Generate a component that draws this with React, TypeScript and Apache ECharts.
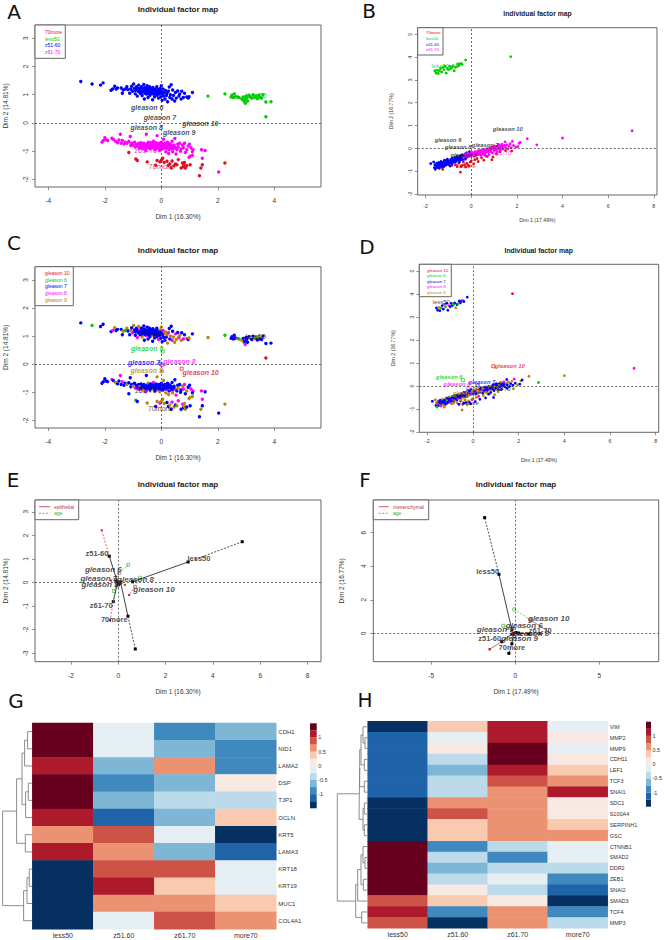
import React, { useEffect, useRef } from "react";
import * as echarts from "echarts";

// ---------- panel A / C individuals (Dim 1 16.30%, Dim 2 14.81%) ----------
const A_70more = [[-1.15,-1.05],[-.9,-1.28],[-.85,-1.33],[-.5,-1.38],[-.2,-1.5],[-.15,-1.33],[-.05,-1.38],[0,-1.32],[.05,-1.25],[.1,-1.4],[.2,-1.36],[.25,-1.5],[.3,-1.45],[.35,-1.6],[.38,-1.35],[.45,-1.52],[.5,-1.45],[.55,-1.48],[.6,-1.3],[.7,-1.6],[.75,-1.42],[.78,-1.55],[.8,-1.5],[.82,-1.4],[.85,-1.6],[.9,-1.52],[1.02,-1.48],[1.35,-1.87],[1.4,-1.6],[1.45,-1.48],[2.25,-1.42]];
const A_less50 = [[3.7,.22],[1.65,.95],[2.25,1.03],[2.47,.92],[2.5,.98],[2.55,.9],[2.58,1.03],[2.62,.93],[2.7,.92],[2.75,.9],[2.85,.85],[2.9,.92],[2.92,.78],[2.95,.82],[2.97,.7],[3,.95],[3.02,.88],[3.05,.78],[3.1,.98],[3.15,.92],[3.2,.88],[3.25,1],[3.3,.9],[3.35,.95],[3.4,.86],[3.45,.98],[3.5,.9],[3.55,.88],[3.6,1],[3.7,.74],[3.88,.75]];
const A_z5160 = [[-2.85,1.47],[-2.45,1.38],[-2.15,1.34],[-2.06,1.42],[-1.78,1.16],[-1.72,1.2],[-1.65,1.3],[-1.6,1.2],[-1.55,1.24],[-1.42,1.24],[-1.38,1.05],[-1.35,1.17],[-1.28,1.2],[-1.22,1.28],[-1.18,1.18],[-1.12,1.05],[-1.08,1.2],[-1.05,1.3],[-1.02,1.12],[-.98,1.38],[-.95,1.22],[-.92,1.03],[-.9,1.18],[-.88,1.28],[-.85,.95],[-.82,1.12],[-.8,1.34],[-.78,1.22],[-.75,1.05],[-.73,1.16],[-.7,1.28],[-.68,.97],[-.66,1.1],[-.64,1.2],[-.62,1.36],[-.6,.85],[-.58,1.05],[-.56,1.15],[-.55,1.25],[-.52,1.02],[-.5,1.32],[-.48,1.12],[-.47,.9],[-.45,1.2],[-.43,1.08],[-.42,1.28],[-.4,.98],[-.38,1.15],[-.36,1.22],[-.35,1.05],[-.33,1.12],[-.31,.82],[-.3,1.26],[-.28,1.02],[-.27,1.17],[-.25,1.1],[-.24,.93],[-.22,1.2],[-.2,1.05],[-.18,1.14],[-.16,1.28],[-.15,.98],[-.13,1.08],[-.1,.88],[-.08,1.18],[-.06,1.02],[-.04,1.22],[-.02,.92],[0,1.32],[.02,1.1],[.03,.8],[.05,1],[.06,1.2],[.08,.95],[.1,1.08],[.13,.85],[.15,1.15],[.18,.97],[.2,1.05],[.22,.75],[.25,1.12],[.28,1.27],[.3,.9],[.32,1],[.35,1.35],[.38,.85],[.4,1.17],[.43,.97],[.47,.78],[.5,1.08],[.53,.88],[.58,1.13],[.62,.95],[.65,1.02],[.7,.85],[.72,1.12],[.78,.9],[.82,1.05],[.9,.92],[.95,.88],[.98,.93],[1.1,1.08],[-.92,1.15],[-.86,1.2],[-.76,1.13],[-.72,1.08],[-.69,1.18],[-.63,1.12],[-.6,1.24],[-.57,1.18],[-.53,1.1],[-.49,1.2],[-.46,1.05],[-.44,1.15],[-.41,1.2],[-.39,1.07],[-.37,1.1],[-.34,1.18],[-.29,1.13],[-.26,1.05],[-.23,1.16],[-.19,1.1],[-.14,1.18],[-.11,1.12],[-.07,1.06],[-.03,1.14],[.04,1.05]];
const A_z6170 = [[-2.1,-.68],[-2.05,-.62],[-2,-.52],[-1.95,-.6],[-1.9,-.62],[-1.75,-.54],[-1.7,-.58],[-1.62,-.65],[-1.55,-.7],[-1.5,-.6],[-1.45,-.4],[-1.42,-.72],[-1.38,-.62],[-1.32,-.75],[-1.28,-.68],[-1.22,-.72],[-1.15,-.66],[-1.1,-.48],[-1.08,-.8],[-1.05,-.72],[-1,-.78],[-.95,-.68],[-.92,-.85],[-.88,-.75],[-.85,-.82],[-.8,-.72],[-.78,-.9],[-.75,-.8],[-.72,-.7],[-.7,-.85],[-.68,-.77],[-.65,-.92],[-.62,-.72],[-.6,-.82],[-.58,-.78],[-.55,-.98],[-.53,-.4],[-.52,-.88],[-.5,-.74],[-.48,-.8],[-.46,-.68],[-.44,-.85],[-.42,-.76],[-.4,-.92],[-.38,-.7],[-.36,-.82],[-.34,-.78],[-.32,-.88],[-.3,-.72],[-.28,-.65],[-.26,-.84],[-.24,-.76],[-.22,-.95],[-.2,-.8],[-.18,-.7],[-.16,-.86],[-.15,-.45],[-.14,-.76],[-.12,-.9],[-.1,-.82],[-.08,-.72],[-.06,-.98],[-.04,-.78],[-.02,-.88],[0,-.68],[.02,-.84],[.04,-.76],[.06,-.92],[.08,-.58],[.1,-.8],[.12,-.72],[.14,-.87],[.16,-1.02],[.18,-.77],[.2,-.9],[.22,-.68],[.24,-.84],[.26,-1.08],[.28,-.95],[.3,-.74],[.32,-.88],[.35,-.8],[.38,-.65],[.4,-1.02],[.42,-.92],[.45,-.78],[.48,-.55],[.5,-.88],[.52,-1.1],[.55,-.95],[.58,-.75],[.6,-.85],[.65,-.72],[.68,-1],[.7,-.92],[.75,-.78],[.78,-.88],[.82,-.72],[.85,-1.05],[.9,-.95],[.95,-.82],[.98,-1.22],[1,-.75],[1.02,-1.18],[1.05,-.88],[1.1,-1.15],[1.12,-.95],[1.1,-1.02],[1.42,-.95],[1.45,-1.25],[1.55,-.98],[2.03,-1.74],[-.74,-.86],[-.66,-.8],[-.61,-.76],[-.56,-.85],[-.51,-.8],[-.47,-.86],[-.43,-.8],[-.39,-.86],[-.35,-.75],[-.31,-.8],[-.27,-.74],[-.23,-.86],[-.19,-.78],[-.17,-.82],[-.13,-.8],[-.09,-.87],[-.05,-.82],[-.01,-.76],[.03,-.88],[.07,-.8],[.11,-.86],[.15,-.78],[.19,-.84],[.23,-.76],[.27,-.82],[.31,-.78],[.36,-.9],[.44,-.85]];
// gleason grade of each individual above, one digit per point (0 stands for gleason 10)
const C_70more = "7679798999779789798787999777979";
const C_less50 = "0967777786979787777977967977777";
const C_z5160 = "76777897777969779789777787987779787777687777977879777978777977788797977987979799877978799897899787979";
const C_z6170 = "77777879778787797777978777897779778877779777787978797977978779777877987799877977977987798779777988797979898788";

// ---------- panel B / D individuals (Dim 1 17.49%, Dim 2 16.77%) ----------
const B_70more = [[-1.25,-.92],[-.85,-.75],[-.7,-.72],[-.62,-.8],[-.55,-.65],[-.48,-1.05],[-.45,-.8],[-.4,-.75],[-.35,-.6],[-.3,-.72],[-.25,-.82],[-.2,-.65],[-.15,-.72],[-.1,-.78],[-.05,-.6],[0,-.55],[.1,-.68],[.15,-.5],[.25,-.45],[.3,-.58],[.45,-.42],[.55,-.52],[.6,-.3],[.7,-.35],[.9,-.5],[.95,-.38],[1.1,-.25],[1.25,-.15],[1.5,-.1],[1.77,-.12]];
const B_less50 = [[1.73,4.02],[-.25,3.87],[-1.6,3.4],[-1.55,3.3],[-1.5,3.42],[-1.45,3.28],[-1.4,3.4],[-1.35,3.5],[-1.3,3.35],[-1.25,3.55],[-1.2,3.45],[-1.15,3.6],[-1.1,3.3],[-1.05,3.5],[-1,3.45],[-.95,3.6],[-.9,3.5],[-.85,3.55],[-.8,3.62],[-.75,3.4],[-.7,3.55],[-.65,3.58],[-.6,3.7],[-.55,3.62],[-.5,3.7],[-.45,3.72],[-.4,3.68]];
const B_z5160 = [[-1.78,-.67],[-1.65,-.6],[-1.62,-.85],[-1.6,-.72],[-1.58,-.92],[-1.55,-.78],[-1.52,-.65],[-1.5,-.85],[-1.5,-.7],[-1.48,-.72],[-1.45,-.8],[-1.43,-.62],[-1.42,-.75],[-1.4,-.88],[-1.38,-.7],[-1.35,-.77],[-1.33,-.58],[-1.3,-.82],[-1.28,-.66],[-1.25,-.73],[-1.22,-.6],[-1.2,-.8],[-1.18,-.52],[-1.15,-.68],[-1.13,-.75],[-1.1,-.6],[-1.08,-.7],[-1.05,-.48],[-1.02,-.64],[-1,-.72],[-.98,-.55],[-.95,-.62],[-.93,-.78],[-.9,-.5],[-.88,-.58],[-.85,-.68],[-.83,-.44],[-.8,-.55],[-.78,-.62],[-.75,-.5],[-.72,-.4],[-.7,-.6],[-.68,-.48],[-.65,-.55],[-.62,-.36],[-.6,-.46],[-.58,-.52],[-.55,-.42],[-.52,-.6],[-.5,-.34],[-.48,-.44],[-.45,-.5],[-.43,-.38],[-.4,-.28],[-.38,-.42],[-.35,-.48],[-.32,-.32],[-.3,-.38],[-.27,-.25],[-.25,-.45],[-.22,-.33],[-.2,-.2],[-.18,-.3],[-.12,-.25],[-.08,-.15],[.02,-.27],[-1.34,-.68],[-1.24,-.62],[-1.16,-.74],[-1.06,-.58],[-.96,-.66],[-.86,-.52],[-.76,-.56],[-.66,-.46],[-.56,-.5],[-.46,-.4],[-1.46,-.68],[-1.12,-.54]];
const B_z6170 = [[7.05,.77],[4,.45],[2.87,.15],[2.45,.42],[-.35,-.42],[-.3,-.3],[-.28,-.36],[-.25,-.25],[-.2,-.32],[-.18,-.4],[-.15,-.22],[-.12,-.3],[-.1,-.36],[-.05,-.28],[-.02,-.22],[0,-.34],[.03,-.18],[.06,-.28],[.1,-.22],[.12,-.35],[.15,-.15],[.18,-.25],[.2,-.3],[.25,-.18],[.28,-.12],[.3,-.28],[.33,-.2],[.35,-.1],[.38,-.25],[.4,-.16],[.43,-.32],[.45,-.08],[.48,-.2],[.5,-.13],[.53,-.26],[.55,-.05],[.58,-.16],[.6,-.1],[.63,-.2],[.65,-.35],[.68,-.02],[.7,-.12],[.72,-.06],[.75,-.18],[.78,-.28],[.8,0],[.82,-.08],[.85,-.14],[.88,.04],[.9,-.04],[.92,-.2],[.95,.06],[.98,-.02],[1,-.1],[1.02,.1],[1.05,.02],[1.08,-.06],[1.1,.08],[1.12,-.16],[1.15,.04],[1.18,.12],[1.2,-.02],[1.22,.16],[1.25,.06],[1.28,-.08],[1.3,.1],[1.33,.02],[1.35,.18],[1.38,.08],[1.4,-.04],[1.45,.12],[1.48,.28],[1.5,.04],[1.55,.16],[1.6,-.02],[1.65,.1],[1.7,.2],[1.75,.03],[1.8,.3],[1.85,.12],[1.95,.05],[2.05,.08],[2.1,.22],[2.15,.26],[.22,-.22],[.42,-.12],[.62,-.14],[.84,-.04],[1.03,.04],[1.16,-.04],[1.26,.02],[.74,-.1],[.52,-.18],[.32,-.14]];
const D_70more = "999799879799778979879797799779";
const D_less50 = "077797677867787776797677787";
const D_z5160 = "797968879797786799779796897978779787979677989787977987797779777877";
const D_z6170 = "89697789797778979777897797979877789777797899798778779777977978979778779779779787979799";

// ---------- label tables (name, x, y) ----------
const gleasonNames = ["gleason 6", "gleason 7", "gleason 8", "gleason 9", "gleason 10"];
const ageNames = ["less50", "z51-60", "z61-70", "70more"];
const A_gleasonXY = [[-.5,.55],[-.05,.2],[-.52,-.145],[.63,-.35],[1.38,-.03]];
const A_ageXY = [[3.35,.98],[-.35,1.1],[-.55,-.97],[0,-1.55]];
const B_gleasonXY = [[-1.02,.35],[.61,.16],[-.58,.06],[-.33,-.29],[1.6,.85]];
const B_ageXY = [[-1.36,3.62],[-.6,-.45],[1.35,-.22],[-.26,-.78]];
const C_gleasonXY = [[-.5,.55],[-.61,.07],[.64,.11],[-.52,-.24],[1.39,-.28]];
const C_ageXY = [[3.34,.97],[-.35,1.1],[-.55,-.95],[-.05,-1.56]];
const C_means = [[.05,.45],[-.03,.02],[.02,-.03],[.02,-.25],[.72,-.16]];
const D_gleasonXY = [[-1.04,.38],[.39,.18],[-.7,.08],[-.3,-.3],[1.61,.86]];
const D_ageXY = [[-1.39,3.65],[-.6,-.45],[1.24,-.15],[-.19,-.75]];
const D_means = [[-.44,.25],[.2,.02],[-.2,-.1],[.1,-.12],[.89,.86]];
const E_gleasonXY = [[-.63,.57],[-.82,.18],[.73,.11],[-.77,-.1],[1.51,-.3]];
const E_ageXY = [[3.41,1.01],[-.9,1.25],[-.72,-.98],[-.17,-1.59]];
const F_gleasonXY = [[.54,.44],[-1.19,.24],[.93,-.02],[.26,-.32],[1.99,.87]];
const F_ageXY = [[-1.64,3.67],[-1.52,-.32],[1.49,.16],[-.2,-.83]];

// ---------- partial-axes segments, [x1,y1,x2,y2] ----------
const E_solidBlack = [[2.95,.87,.6,.03],[-.38,1.12,-.03,0],[-.21,-.81,-.03,0],[.41,-1.43,.1,0]];
const E_dashBlack = [[2.95,.87,5.24,1.73],[.41,-1.43,.72,-2.82]];
const E_red = [[-.38,1.12,-.7,2.22],[-.21,-.81,-.35,-1.6],[.71,-.18,.46,-.53],[.04,.4,-.31,.08],[.1,0,.28,-.1]];
const E_green = [[.04,.4,.42,.75],[.71,-.18,.92,.2],[-.05,-.17,-.18,-.36],[-.21,-.81,-.1,-.1]];
const E_black = [[2.95,.87],[5.24,1.73],[.6,.03],[-.38,1.12],[-.21,-.81],[.41,-1.43],[.72,-2.82],[-.05,.02],[.05,-.05],[.1,.02],[-.1,.05],[0,-.1]];
const E_redPts = [[-.7,2.22],[-.35,-1.6],[-.31,.08],[.28,-.1],[.46,-.53]];
const E_openPts = [[.04,.4],[-.1,.1],[.1,0],[-.05,-.17],[.71,-.18]];
const E_greenPts = [[.42,.75],[.92,.2],[-.18,-.36]];
const F_solidBlack = [[-.97,3.52,-.2,.2],[-.81,-.5,-.14,0],[-.2,-.62,-.1,0],[.82,-.04,.2,0]];
const F_dashBlack = [[-.97,3.52,-1.82,6.9],[-.2,-.62,-.38,-1.19]];
const F_red = [[-.81,-.5,-1.52,-.95],[.93,.79,1.9,.15],[.82,-.04,1.49,-.04]];
const F_green = [[.93,.79,-.06,1.43],[-.2,.2,-.71,.45]];
const F_black = [[-.97,3.52],[-1.82,6.9],[-.2,.2],[-.81,-.5],[-.2,-.62],[-.38,-1.19],[.82,-.04],[-.1,0],[.05,.05],[-.2,-.05],[.2,0]];
const F_redPts = [[-1.52,-.95],[1.49,-.04],[-.14,-.02],[.3,-.06]];
const F_openPts = [[.93,.79],[-.15,.3]];
const F_greenPts = [[-.06,1.43],[-.71,.45]];

// ---------- heatmaps ----------
const sampleGroups = ["less50", "z51.60", "z61.70", "more70"];
const G_genes = ["CDH1","NID1","LAMA2","DSP","TJP1","OCLN","KRT5","LAMA3","KRT18","KRT19","MUC1","COL4A1"];
const G_values = [
  [1.375,-.125,-.875,-.625],[1.375,-.125,-.625,-.875],[1.125,-.625,.625,-.875],[1.375,-.875,-.625,.125],
  [1.375,-.625,-.375,-.375],[1.125,-1.125,-.625,.375],[.625,.875,-.125,-1.375],[1.125,.625,-.625,-1.125],
  [-1.375,.875,.875,-.125],[-1.375,1.125,.375,-.125],[-1.375,.625,.625,.375],[-1.375,-.125,.875,.625],
];
const H_genes = ["VIM","MMP2","MMP9","CDH11","LEF1","TCF3","SNAI1","SDC1","S100A4","SERPINH1","GSC","CTNNB1","SMAD2","DDR2","ZEB1","SNAI2","SMAD3","TCF4","MMP3"];
const H_values = [
  [-1.375,.375,1.125,-.125],[-1.125,-.125,1.125,.125],[-1.125,.125,1.375,-.125],[-1.125,-.375,1.375,.125],
  [-1.125,-.625,1.125,.375],[-1.125,-.375,.875,.625],[-1.125,-.375,.625,1.125],[-1.375,.625,.625,.125],
  [-1.375,.875,.625,.125],[-1.375,.375,.625,.375],[-1.375,.375,.625,.625],[1.375,-.875,-.375,-.125],
  [1.375,-.375,-.875,-.125],[1.375,-.625,-.375,-.375],[1.375,-.375,-.125,-.875],[1.375,.125,-.375,-1.125],
  [.875,.375,.125,-1.375],[1.125,-.875,.625,-.875],[.875,-1.375,.625,-.375],
];
const bandColors = ["#053061","#1F63A8","#3F89BE","#7EB6D6","#BCDAEA","#E5EEF3","#F8EAE3","#F9C9B0","#EB9273","#CE5347","#AC1A2B","#67001F"];
const bandEdges = [-1.5,-1.25,-1,-.75,-.5,-.25,0,.25,.5,.75,1,1.25,1.5];
const colorbarTicks = [-1,-.5,0,.5,1];
// dendrogram brackets: [top child height, top row, merge height, bottom row, bottom child height]
const G_dendro = [[32,0,27.3,1,32],[27.3,.5,24.3,2,32],[32,3,28,4,32],[28,3.5,25.3,5,32],[24.3,1.25,21.7,4.25,25.3],[32,6,25,7,32],[21.7,2.75,16.3,6.5,25],[32,8,29,9,32],[29,8.5,26.7,10,32],[26.7,9.25,23.3,11,32],[16.3,4.625,2.3,10.125,23.3]];
const H_dendro = [[32.7,1,30,2,32.7],[32.7,0,28,1.5,30],[32.7,3,29.3,4,32.7],[28,.75,26,3.5,29.3],[32.7,5,29.3,6,32.7],[26,2.1,24.7,5.5,29.3],[32.7,7,29.3,8,32.7],[32.7,9,29.3,10,32.7],[29.3,7.5,28,9.5,29.3],[24.7,3.8,24,8.5,28],[32.7,12,30,13,32.7],[32.7,11,28,12.5,30],[32.7,14,28.3,15,32.7],[28,11.75,26,14.5,28.3],[26,13.1,22.7,16,32.7],[32.7,17,26.7,18,32.7],[22.7,14.5,20.7,17.5,26.7],[24,6.15,2.3,16,20.7]];

// ---------- colours and fonts ----------
const FONT = "Liberation Sans";
const RED = "#E01020", GREEN = "#00CD00", BLUE = "#0000FF", MAGENTA = "#FF00FF", GOLD = "#B8860B";
const gleasonColor: Record<string, string> = { "0": RED, "6": GREEN, "7": BLUE, "8": MAGENTA, "9": GOLD };
const gleasonColors = [GREEN, BLUE, MAGENTA, GOLD, RED];
const AXIS = "#666";
const TICKTEXT = "#333";

const grids: any[] = [], xAxes: any[] = [], yAxes: any[] = [], series: any[] = [], titles: any[] = [], graphics: any[] = [];

function addAxes(p: any) {
  const i = grids.length;
  grids.push({ left: p.l, top: p.t, width: p.r - p.l, height: p.b - p.t, show: true, borderColor: AXIS, borderWidth: 1, backgroundColor: "#fff" });
  xAxes.push({
    type: "value", gridIndex: i, min: p.xr[0], max: p.xr[1], splitLine: { show: false },
    axisLine: { show: false, onZero: false },
    axisTick: { show: true, length: 3, customValues: p.xt, lineStyle: { color: AXIS, width: 0.7 } },
    axisLabel: { customValues: p.xt, fontSize: p.fs, color: TICKTEXT, fontFamily: FONT, margin: p.xm ?? 10, formatter: (v: number) => String(v) },
    name: p.xn, nameLocation: "middle", nameGap: p.xg, nameMoveOverlap: false,
    nameTextStyle: { fontSize: p.fs, color: TICKTEXT, fontFamily: FONT },
  });
  yAxes.push({
    type: "value", gridIndex: i, min: p.yr[0], max: p.yr[1], splitLine: { show: false },
    axisLine: { show: false, onZero: false },
    axisTick: { show: true, length: 3, customValues: p.yt, lineStyle: { color: AXIS, width: 0.7 } },
    axisLabel: { customValues: p.yt, fontSize: p.fs, color: TICKTEXT, fontFamily: FONT, rotate: 90, margin: p.ym ?? 6, formatter: (v: number) => String(v) },
    name: p.yn, nameLocation: "middle", nameGap: p.yg, nameRotate: 90, nameMoveOverlap: false,
    nameTextStyle: { fontSize: p.fs, color: TICKTEXT, fontFamily: FONT },
  });
  titles.push({ text: "Individual factor map", padding: 0, left: p.tx, top: p.ty - p.ts * 0.5, textAlign: "center", textStyle: { fontSize: p.ts, fontWeight: "bold", color: "#222", fontFamily: FONT } });
  titles.push({ text: p.letter, padding: 0, left: p.lx, top: p.ly - 12, textAlign: "center", textStyle: { fontSize: 20, fontWeight: "normal", color: "#111", fontFamily: "DejaVu Sans" } });
  series.push({
    type: "line", xAxisIndex: i, yAxisIndex: i, data: [], silent: true,
    markLine: { silent: true, symbol: "none", label: { show: false }, animation: false, lineStyle: { color: "#444", type: [2, 2], width: 0.8 }, data: [{ xAxis: 0 }, { yAxis: 0 }] },
  });
  return i;
}
function addPoints(i: number, pts: any[], color: any, size: number) {
  series.push({ type: "scatter", xAxisIndex: i, yAxisIndex: i, data: pts, symbol: "circle", symbolSize: size, silent: true, itemStyle: { color, opacity: 1 } });
}
function addGraded(i: number, groups: [number[][], string][], size: number) {
  const data: any[] = [];
  groups.forEach(([pts, grades]) => pts.forEach((p, k) => data.push({ value: p, itemStyle: { color: gleasonColor[grades[k]] ?? BLUE } })));
  series.push({ type: "scatter", xAxisIndex: i, yAxisIndex: i, data, symbol: "circle", symbolSize: size, silent: true, itemStyle: { opacity: 1 } });
}
function addSquares(i: number, pts: number[][], color: any, filled: boolean, size: number) {
  series.push({
    type: "scatter", xAxisIndex: i, yAxisIndex: i, data: pts, symbol: "rect", symbolSize: size, silent: true,
    itemStyle: filled ? { color, opacity: 1 } : { color: "rgba(0,0,0,0)", borderColor: color, borderWidth: 0.7, opacity: 1 },
  });
}
function addOpenByColor(i: number, pts: number[][], colors: string[], size: number) {
  pts.forEach((p, k) => addSquares(i, [p], colors[k], false, size));
}
function addLabels(i: number, names: string[], xy: number[][], colors: string | string[], size: number, italic: boolean, bold: boolean) {
  series.push({
    type: "scatter", xAxisIndex: i, yAxisIndex: i, symbolSize: 1, silent: true, z: 5,
    itemStyle: { color: "rgba(0,0,0,0)" },
    data: names.map((n, k) => ({
      name: n, value: xy[k],
      label: {
        show: true, position: "inside", formatter: n, fontSize: size, fontFamily: FONT,
        fontStyle: italic ? "italic" : "normal", fontWeight: bold ? "bold" : "normal",
        color: Array.isArray(colors) ? colors[k] : colors,
      },
    })),
  });
}
function addSegments(i: number, segs: number[][], color: string, dashed: boolean, width = 0.8) {
  const data: any[] = [];
  segs.forEach((s) => { data.push([s[0], s[1]], [s[2], s[3]], [null, null]); });
  series.push({ type: "line", xAxisIndex: i, yAxisIndex: i, data, symbol: "none", connectNulls: false, silent: true, lineStyle: { color, width, type: dashed ? [2, 1.5] : "solid" } });
}
function addLegendBox(l: number, t: number, r: number, b: number, names: string[], colors: string[], x: number, ys: number[], fs: number) {
  graphics.push({ type: "rect", shape: { x: l, y: t, width: r - l, height: b - t }, style: { fill: "#fff", stroke: AXIS, lineWidth: 1 }, z: 10 });
  names.forEach((n, k) => graphics.push({ type: "text", x, y: ys[k], z: 11, style: { text: n, fill: colors[k], fontSize: fs, fontFamily: FONT, verticalAlign: "middle", textVerticalAlign: "middle" } }));
}
function addHeat(g: any) {
  const i = grids.length;
  grids.push({ left: g.l, top: g.t, width: g.r - g.l, height: g.b - g.t, show: false });
  xAxes.push({ type: "category", gridIndex: i, data: sampleGroups, axisLine: { show: false }, axisTick: { show: false }, axisLabel: { interval: 0, fontSize: 7, color: TICKTEXT, fontFamily: FONT, margin: 3 } });
  yAxes.push({ type: "category", gridIndex: i, data: g.genes, inverse: true, position: "right", axisLine: { show: false }, axisTick: { show: false }, axisLabel: { interval: 0, fontSize: g.fs, color: TICKTEXT, fontFamily: FONT, margin: 2 } });
  const data: number[][] = [];
  g.values.forEach((row: number[], r: number) => row.forEach((v, c) => data.push([c, r, v])));
  const s = series.length;
  series.push({ type: "heatmap", xAxisIndex: i, yAxisIndex: i, data, silent: true, progressive: 0, itemStyle: { borderWidth: 0 } });
  // dendrogram
  const d = grids.length;
  grids.push({ left: g.dl, top: g.t, width: g.l - g.dl, height: g.b - g.t, show: false });
  xAxes.push({ type: "value", gridIndex: d, min: 0, max: g.l - g.dl, show: false });
  yAxes.push({ type: "value", gridIndex: d, min: -0.5, max: g.genes.length - 0.5, inverse: true, show: false });
  const pts: any[] = [];
  g.dendro.forEach((b: number[]) => pts.push([b[0], b[1]], [b[2], b[1]], [b[2], b[3]], [b[4], b[3]], [null, null]));
  series.push({ type: "line", xAxisIndex: d, yAxisIndex: d, data: pts, symbol: "none", connectNulls: false, silent: true, clip: false, lineStyle: { color: "#808080", width: 0.9 } });
  // colour bar
  const c = grids.length;
  grids.push({ left: g.cl, top: g.ct, width: g.cr - g.cl, height: g.cb - g.ct, show: false });
  xAxes.push({ type: "value", gridIndex: c, min: 0, max: 1, show: false });
  yAxes.push({
    type: "value", gridIndex: c, min: -1.5, max: 1.5, position: "right", splitLine: { show: false },
    axisLine: { show: false, onZero: false }, axisTick: { show: false },
    axisLabel: { customValues: colorbarTicks, fontSize: 5.5, color: TICKTEXT, fontFamily: FONT, margin: 1.5, formatter: (v: number) => String(v) },
  });
  series.push({
    type: "custom", xAxisIndex: c, yAxisIndex: c, silent: true, encode: { y: [0, 1] },
    data: bandColors.map((_, k) => [bandEdges[k], bandEdges[k + 1], k]),
    renderItem: (_: any, api: any) => {
      const a = api.coord([0, api.value(1)]);
      const b = api.coord([1, api.value(0)]);
      return { type: "rect", shape: { x: a[0], y: a[1], width: b[0] - a[0], height: b[1] - a[1] }, style: { fill: bandColors[api.value(2)] } };
    },
  });
  return s;
}

// ---------- panels ----------
const xA = { l: 35, r: 321, xr: [-4.47, 5.65], xt: [-4, -2, 0, 2, 4], yt: [-2, -1, 0, 1, 2, 3], yr: [-2.27, 3.47], xn: "Dim 1 (16.30%)", yn: "Dim 2 (14.81%)", xg: 26, yg: 26, fs: 6.5, ts: 8 };
const A = addAxes({ ...xA, t: 25, b: 187, tx: 178, ty: 9, letter: "A", lx: 14, ly: 14 });
addPoints(A, A_70more, RED, 3.4); addPoints(A, A_less50, GREEN, 3.4); addPoints(A, A_z5160, BLUE, 3.4); addPoints(A, A_z6170, MAGENTA, 3.4);
addLabels(A, gleasonNames, A_gleasonXY, "#222", 7, true, true);
addLabels(A, ageNames, A_ageXY, [GREEN, BLUE, MAGENTA, RED], 7.5, false, false);
addLegendBox(35, 25, 65.3, 58.3, ["70more", "less50", "z51-60", "z61-70"], [RED, GREEN, BLUE, MAGENTA], 45, [32, 38.5, 45, 51.7], 5);

const xB = { xr: [-2.35, 8.14], xt: [-2, 0, 2, 4, 6, 8], yt: [-2, -1, 0, 1, 2, 3, 4, 5], yr: [-2.05, 5.29], xn: "Dim 1 (17.49%)", yn: "Dim 2 (16.77%)", fs: 5.2, ts: 6.8 };
const B = addAxes({ ...xB, l: 417.7, r: 657, t: 27.7, b: 195, tx: 537.5, ty: 13.7, letter: "B", lx: 369, ly: 13, xg: 22, yg: 24, ym: 5, xm: 8 });
addPoints(B, B_70more, RED, 2.8); addPoints(B, B_less50, GREEN, 2.8); addPoints(B, B_z5160, BLUE, 2.8); addPoints(B, B_z6170, MAGENTA, 2.8);
addLabels(B, gleasonNames, B_gleasonXY, "#222", 5.8, true, true);
addLabels(B, ageNames, B_ageXY, [GREEN, BLUE, MAGENTA, RED], 6, false, false);
addLegendBox(417.7, 27.7, 443, 55, ["70more", "less50", "z51-60", "z61-70"], [RED, GREEN, BLUE, MAGENTA], 426, [32.7, 38.3, 44, 49.3], 4.3);

const C = addAxes({ ...xA, t: 266.7, b: 428, tx: 178, ty: 250.7, letter: "C", lx: 14, ly: 245 });
addGraded(C, [[A_z5160, C_z5160], [A_z6170, C_z6170], [A_70more, C_70more], [A_less50, C_less50]], 3.4);
addOpenByColor(C, C_means, gleasonColors, 3);
addLabels(C, gleasonNames, C_gleasonXY, gleasonColors, 7, true, true);
addLabels(C, ageNames, C_ageXY, "#111", 7, false, false);
addLegendBox(35, 266.7, 73.3, 305.7, ["gleason 10", "gleason 6", "gleason 7", "gleason 8", "gleason 9"], [RED, GREEN, BLUE, MAGENTA, GOLD], 45, [273.3, 280, 286.3, 293, 299.7], 5);

const D = addAxes({ ...xB, l: 419.3, r: 658.7, t: 264.3, b: 432.3, tx: 538.7, ty: 250.7, letter: "D", lx: 367, ly: 249, xg: 25, yg: 24, ym: 5, xm: 6, xr: [-2.35, 8.13], yr: [-2.02, 5.3] });
addGraded(D, [[B_z5160, D_z5160], [B_z6170, D_z6170], [B_70more, D_70more], [B_less50, D_less50]], 2.8);
addOpenByColor(D, D_means, gleasonColors, 3);
addLabels(D, gleasonNames, D_gleasonXY, gleasonColors, 5.8, true, true);
addLabels(D, ageNames, D_ageXY, "#111", 6, false, false);
addLegendBox(419.3, 264.3, 451.3, 296.7, ["gleason 10", "gleason 6", "gleason 7", "gleason 8", "gleason 9"], [RED, GREEN, BLUE, MAGENTA, GOLD], 427, [270, 275.7, 281, 286.3, 292], 4.3);

const E = addAxes({ l: 35, r: 321, t: 500, b: 661.7, xr: [-3.52, 8.57], yr: [-3.36, 3.5], xt: [-2, 0, 2, 4, 6, 8], yt: [-3, -2, -1, 0, 1, 2, 3], xn: "Dim 1 (16.30%)", yn: "Dim 2 (14.81%)", xg: 26, yg: 26, fs: 6.5, ts: 8, tx: 178, ty: 484, letter: "E", lx: 13, ly: 482 });
addSegments(E, E_solidBlack, "#111", false); addSegments(E, E_dashBlack, "#222", true);
addSegments(E, E_red, "#D0404A", true); addSegments(E, E_green, "#50C050", true);
addSquares(E, E_black, "#000", true, 3); addSquares(E, E_redPts, "#D0202A", true, 2);
addSquares(E, E_openPts, "#777", false, 3); addSquares(E, E_greenPts, "#40B040", false, 3);
addLabels(E, gleasonNames, E_gleasonXY, "#222", 8, true, true);
addLabels(E, ageNames, E_ageXY, "#222", 7.5, false, true);
addLegendBox(35, 500, 78.7, 519.7, ["epithelial", "age"], ["#C03040", "#30B040"], 54.3, [506.7, 513.3], 5);
graphics.push({ type: "line", z: 11, shape: { x1: 39, y1: 506.7, x2: 50, y2: 506.7 }, style: { stroke: "#C03040", lineWidth: 0.8 } });
graphics.push({ type: "line", z: 11, shape: { x1: 39, y1: 513.3, x2: 50, y2: 513.3 }, style: { stroke: "#30B040", lineWidth: 0.8, lineDash: [2, 1.5] } });

const F = addAxes({ l: 373.3, r: 658.7, t: 500, b: 661.7, xr: [-8.45, 8.54], yr: [-1.69, 7.95], xt: [-5, 0, 5], yt: [0, 2, 4, 6], xn: "Dim 1 (17.49%)", yn: "Dim 2 (16.77%)", xg: 26, yg: 28, fs: 6.5, ts: 8, tx: 516, ty: 484, letter: "F", lx: 365, ly: 482 });
addSegments(F, F_solidBlack, "#111", false); addSegments(F, F_dashBlack, "#222", true);
addSegments(F, F_red, "#D0404A", false); addSegments(F, F_green, "#50C050", true);
addSquares(F, F_black, "#000", true, 3); addSquares(F, F_redPts, "#D0202A", true, 2.5);
addSquares(F, F_openPts, "#777", false, 3); addSquares(F, F_greenPts, "#40B040", false, 3);
addLabels(F, gleasonNames, F_gleasonXY, "#222", 8, true, true);
addLabels(F, ageNames, F_ageXY, "#222", 7.5, false, true);
addLegendBox(373.3, 500, 428.7, 519.7, ["mesenchymal", "age"], ["#C03040", "#30B040"], 393, [506.7, 513.3], 5);
graphics.push({ type: "line", z: 11, shape: { x1: 378.7, y1: 506.7, x2: 388.7, y2: 506.7 }, style: { stroke: "#C03040", lineWidth: 0.8 } });
graphics.push({ type: "line", z: 11, shape: { x1: 378.7, y1: 513.3, x2: 388.7, y2: 513.3 }, style: { stroke: "#30B040", lineWidth: 0.8, lineDash: [2, 1.5] } });

const heatG = addHeat({ l: 32.3, r: 276.3, t: 723, b: 929.3, dl: 0.3, genes: G_genes, values: G_values, dendro: G_dendro, fs: 6, cl: 310, cr: 316.7, ct: 723.3, cb: 808.3 });
const heatH = addHeat({ l: 367.7, r: 607.7, t: 721.3, b: 928.3, dl: 335, genes: H_genes, values: H_values, dendro: H_dendro, fs: 5.5, cl: 646, cr: 652, ct: 721.7, cb: 806.7 });
titles.push({ text: "G", padding: 0, left: 16, top: 690.7, textAlign: "center", textStyle: { fontSize: 20, fontWeight: "normal", color: "#111", fontFamily: "DejaVu Sans" } });
titles.push({ text: "H", padding: 0, left: 365, top: 690, textAlign: "center", textStyle: { fontSize: 20, fontWeight: "normal", color: "#111", fontFamily: "DejaVu Sans" } });

const option: any = {
  animation: false,
  backgroundColor: "#fff",
  title: titles,
  grid: grids,
  xAxis: xAxes,
  yAxis: yAxes,
  series,
  graphic: graphics,
  visualMap: {
    show: false, type: "piecewise", seriesIndex: [heatG, heatH], dimension: 2,
    pieces: bandColors.map((color, k) => ({ min: bandEdges[k], max: bandEdges[k + 1], color })),
  },
};

export default function App() {
  const ref = useRef<HTMLDivElement>(null);
  useEffect(() => {
    document.body.style.margin = "0";
    const chart = echarts.init(ref.current!, undefined, { renderer: "svg" });
    chart.setOption(option);
    return () => chart.dispose();
  }, []);
  return <div ref={ref} style={{ width: 665, height: 940 }} />;
}
